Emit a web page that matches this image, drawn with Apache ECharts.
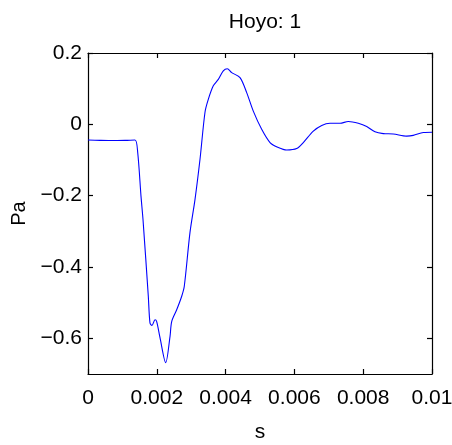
<!DOCTYPE html>
<html>
<head>
<meta charset="utf-8">
<script src="https://cdn.jsdelivr.net/npm/echarts@6/dist/echarts.min.js"></script>
<style>
html,body{margin:0;padding:0;background:#fff;}
#chart{width:452px;height:445px;}
</style>
</head>
<body>
<div id="chart"></div>
<script>
const chartTitle = "Hoyo: 1";
const xName = "s";
const yName = "Pa";
const xTicks = [0, 0.002, 0.004, 0.006, 0.008, 0.01];
const yTicks = [-0.6, -0.4, -0.2, 0, 0.2];
const timeS = [0, 0.000349, 0.00064, 0.001076, 0.001366, 0.001445, 0.001541, 0.001599, 0.001753, 0.001802, 0.00186, 0.001948, 0.001997, 0.002093, 0.002259, 0.002384, 0.002433, 0.002578, 0.002724, 0.002799, 0.002965, 0.00311, 0.003256, 0.003401, 0.003497, 0.003642, 0.003788, 0.003933, 0.004049, 0.004177, 0.004419, 0.004613, 0.004805, 0.005049, 0.005291, 0.005532, 0.005776, 0.006067, 0.006259, 0.00655, 0.006794, 0.007035, 0.007326, 0.007567, 0.007858, 0.008102, 0.008343, 0.008584, 0.008875, 0.009265, 0.009456, 0.009747, 0.01];
const pressurePa = [-0.044, -0.045, -0.0455, -0.045, -0.044, -0.079, -0.202, -0.267, -0.482, -0.557, -0.564, -0.548, -0.553, -0.598, -0.668, -0.595, -0.553, -0.52, -0.482, -0.454, -0.303, -0.211, -0.098, 0.034, 0.07, 0.108, 0.126, 0.15, 0.156, 0.145, 0.131, 0.089, 0.037, -0.014, -0.051, -0.065, -0.072, -0.068, -0.051, -0.019, -0.003, 0.003, 0.003, 0.008, 0.003, -0.006, -0.021, -0.026, -0.027, -0.033, -0.031, -0.023, -0.022];

const seriesData = timeS.map((t, i) => [t, pressurePa[i]]);
const FONT = "'Liberation Sans', Arial, sans-serif";
const fmtX = v => (+v).toFixed(3).replace(/0+$/, '').replace(/\.$/, '');
const fmtY = v => { if (Math.abs(v) < 1e-9) return '0'; return (+v).toFixed(1).replace('-', '\u2212'); };

const chart = echarts.init(document.getElementById('chart'), null, {renderer: 'canvas'});
const lineStyle = {color: '#000', width: 1.2};
chart.setOption({
  animation: false,
  backgroundColor: '#fff',
  title: {
    text: chartTitle, left: 260, top: 7, textAlign: 'center',
    textStyle: {fontFamily: FONT, fontSize: 21, fontWeight: 'normal', color: '#000'}
  },
  grid: {left: 88, right: 20, top: 53, bottom: 71, containLabel: false, outerBoundsMode: 'none'},
  xAxis: [{
    type: 'value', min: 0, max: 0.01, interval: 0.002, position: 'bottom',
    name: xName, nameLocation: 'middle', nameGap: 48,
    nameTextStyle: {fontFamily: FONT, fontSize: 21, color: '#000'},
    axisLine: {show: true, onZero: false, lineStyle: lineStyle},
    axisTick: {show: true, inside: true, length: 5, lineStyle: lineStyle, customValues: xTicks},
    axisLabel: {show: true, customValues: xTicks, formatter: fmtX, margin: 14, fontFamily: FONT, fontSize: 21, color: '#000'},
    splitLine: {show: false}
  }, {
    type: 'value', min: 0, max: 0.01, interval: 0.002, position: 'top',
    axisLine: {show: true, onZero: false, lineStyle: lineStyle},
    axisTick: {show: true, inside: true, length: 5, lineStyle: lineStyle, customValues: xTicks},
    axisLabel: {show: false}, splitLine: {show: false}
  }],
  yAxis: [{
    type: 'value', min: -0.7, max: 0.2, position: 'left',
    name: yName, nameLocation: 'middle', nameGap: 47, nameRotate: 90,
    nameTextStyle: {fontFamily: FONT, fontSize: 20, color: '#000'},
    axisLine: {show: true, onZero: false, lineStyle: lineStyle},
    axisTick: {show: true, inside: true, length: 5, lineStyle: lineStyle, customValues: yTicks},
    axisLabel: {show: true, customValues: yTicks, formatter: fmtY, margin: 6, fontFamily: FONT, fontSize: 21, color: '#000'},
    splitLine: {show: false}
  }, {
    type: 'value', min: -0.7, max: 0.2, position: 'right',
    axisLine: {show: true, onZero: false, lineStyle: lineStyle},
    axisTick: {show: true, inside: true, length: 5, lineStyle: lineStyle, customValues: yTicks},
    axisLabel: {show: false}, splitLine: {show: false}
  }],
  series: [{
    type: 'line', data: seriesData, xAxisIndex: 0, yAxisIndex: 0,
    showSymbol: false, smooth: 0.3,
    lineStyle: {color: '#0000ff', width: 1.1}
  }]
});
</script>
</body>
</html>
